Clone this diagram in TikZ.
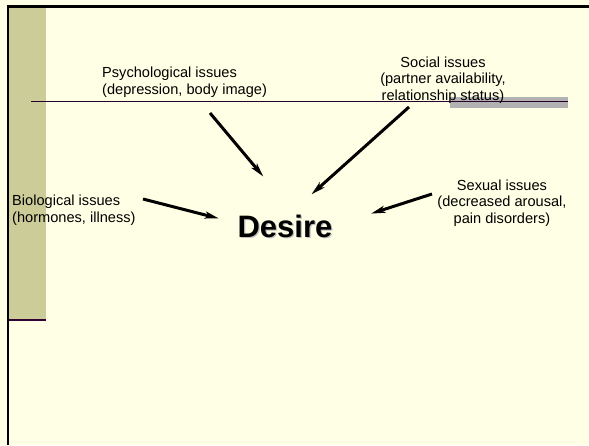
\documentclass[tikz,border=0pt]{standalone}
\usepackage{fontspec}
\setmainfont{Liberation Sans}
\usetikzlibrary{arrows.meta}
\definecolor{bgyellow}{HTML}{FFFFE5}
\definecolor{tanband}{HTML}{CCCC99}
\definecolor{darkplum}{HTML}{330033}
\definecolor{barGray}{HTML}{B2B2B2}
\tikzset{
  lbl/.style={inner sep=0pt, font=\fontsize{14.6}{16.5}\selectfont},
  arr/.style={line width=3pt, -{Stealth[length=14pt,width=7pt,inset=3.5pt]}, shorten >=-2pt},
}
\begin{document}
\begin{tikzpicture}[x=1pt,y=-1pt]
\useasboundingbox (0,0) rectangle (589,445);
\fill[bgyellow] (0,0) rectangle (589,445);
% left band
\fill[tanband] (9,7) rectangle (46,320);
\draw[darkplum,line width=2pt] (7,320) -- (46,320);
% borders
\draw[black,line width=2.6pt,line join=miter] (8,445) -- (8,6.3) -- (589,6.3);
% gray bar and rule
\fill[barGray] (450,97) rectangle (568,108);
\draw[darkplum!80!black,line width=1.1pt] (31,101.5) -- (568,101.5);
% texts
\node[lbl,align=left,anchor=base west] (psy) at (102,94) {Psychological issues\\(depression, body image)};
\node[lbl,align=center,anchor=base] (soc) at (443,100) {Social issues\\(partner availability,\\relationship status)};
\node[lbl,align=left,anchor=base west] (bio) at (12,222) {Biological issues\\(hormones, illness)};
\node[lbl,align=center,anchor=base] (sex) at (502,223) {Sexual issues\\(decreased arousal,\\pain disorders)};
\node[inner sep=0pt,anchor=base,text=black!25,font=\fontsize{31}{31}\selectfont\bfseries] at (286.2,238.2) {Desire};
\node[inner sep=0pt,anchor=base,font=\fontsize{31}{31}\selectfont\bfseries] (des) at (285,237) {Desire};
% arrow endpoints
\coordinate (psyS) at (210,113);
\coordinate (psyE) at (262,175);
\coordinate (socS) at (409,107);
\coordinate (socE) at (313,193);
\coordinate (bioS) at (143,199);
\coordinate (bioE) at (217,218);
\coordinate (sexS) at (432,194);
\coordinate (sexE) at (373,213);
\draw[arr] (psyS) -- (psyE);
\draw[arr] (socS) -- (socE);
\draw[arr] (bioS) -- (bioE);
\draw[arr] (sexS) -- (sexE);
\end{tikzpicture}
\end{document}
